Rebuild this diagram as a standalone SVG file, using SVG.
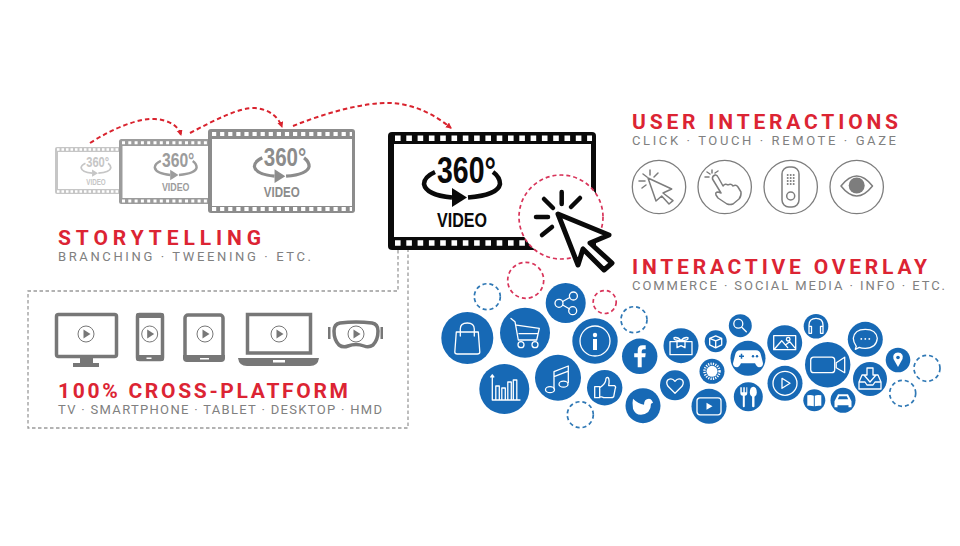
<svg xmlns="http://www.w3.org/2000/svg" xmlns:xlink="http://www.w3.org/1999/xlink" width="960" height="546" viewBox="0 0 960 546">
<style>
.h{font-family:Roboto,"Liberation Sans",sans-serif;font-weight:700;font-size:21px;fill:#dc2433}
.s{font-family:Roboto,"Liberation Sans",sans-serif;font-weight:400;font-size:13px;fill:#808080}
.n{font-family:"Liberation Sans",Arial,sans-serif;font-weight:700;fill:currentColor}
.arc{fill:none;stroke:#d9232e;stroke-width:2;stroke-dasharray:4.500 3}
.box{fill:none;stroke:#9a9a9a;stroke-width:1.300;stroke-dasharray:3.500 2.500}
.dr{fill:#fff;stroke:#d8345a;stroke-width:1.700;stroke-dasharray:4 3}
.db{fill:#fff;stroke:#2f78b5;stroke-width:1.700;stroke-dasharray:4 3}
.b{fill:#1769b5}
.w{fill:none;stroke:#fff;stroke-width:1.300;stroke-linecap:round;stroke-linejoin:round}
.wf{fill:#fff}
.ui{fill:#fff;stroke:#7d7d7d;stroke-width:1.300}
.ic{fill:none;stroke:#7d7d7d;stroke-width:1.500;stroke-linecap:round;stroke-linejoin:round}
.d{fill:#777}
.ds{fill:#fff;stroke:#777;stroke-width:3.500}
.pc{fill:#fff;stroke:#777;stroke-width:1}
.pt{fill:#777}
</style>
<defs>
<marker id="ah" markerWidth="7" markerHeight="7" refX="5" refY="3" orient="auto" markerUnits="userSpaceOnUse"><path d="M0 0L6 3L0 6z" fill="#d9232e"/></marker>
<g id="swoosh"><path d="M435 172Q424 177 424 184Q426 195 452 197.500M493 172Q500 177 500 184Q498 195 468 197.500" fill="none" stroke="currentColor" stroke-width="4.500"/><path d="M467 197.500L452 188V207z" fill="currentColor"/></g>
<g id="play"><circle r="8" class="pc"/><path d="M-2.500 -4.500L4.500 0L-2.500 4.500z" class="pt"/></g>
</defs>
<rect width="960" height="546" fill="#fff"/>

<g id="film-small" color="#c6c6c6">
<rect x="55" y="147" width="70" height="47" rx="2" fill="#c6c6c6"/>
<rect x="58" y="152" width="67" height="37" fill="#fff"/>
<path d="M57 149.500H120M57 191.500H120" stroke="#fff" stroke-width="2.500" stroke-dasharray="2.500 2" fill="none"/>
<g transform="translate(-84.200 96.100) scale(.39)"><text class="n" x="437" y="183" font-size="36" textLength="59" lengthAdjust="spacingAndGlyphs">360°</text><use xlink:href="#swoosh"/><text class="n" x="437" y="227" font-size="21" textLength="50" lengthAdjust="spacingAndGlyphs">VIDEO</text></g>
</g>
<g id="film-medium" color="#9c9c9c">
<rect x="119" y="139" width="95" height="65" rx="2.500" fill="#9c9c9c"/>
<rect x="122.500" y="146" width="90" height="52" fill="#fff"/>
<path d="M122 142.700H208M122 201H208" stroke="#fff" stroke-width="3" stroke-dasharray="3 3.300" fill="none"/>
<g transform="translate(-78.400 66.300) scale(.55)"><text class="n" x="437" y="183" font-size="36" textLength="59" lengthAdjust="spacingAndGlyphs">360°</text><use xlink:href="#swoosh"/><text class="n" x="437" y="227" font-size="21" textLength="50" lengthAdjust="spacingAndGlyphs">VIDEO</text></g>
</g>
<g id="film-large" color="#8c8c8c">
<rect x="208" y="129" width="147" height="84" rx="3" fill="#8c8c8c"/>
<rect x="212" y="139" width="140" height="67" fill="#fff"/>
<path d="M212 134H352M212 209H352" stroke="#fff" stroke-width="4" stroke-dasharray="4.200 3.900" fill="none"/>
<g transform="translate(-50.900 34) scale(.72)"><text class="n" x="437" y="183" font-size="36" textLength="59" lengthAdjust="spacingAndGlyphs">360°</text><use xlink:href="#swoosh"/><text class="n" x="437" y="227" font-size="21" textLength="50" lengthAdjust="spacingAndGlyphs">VIDEO</text></g>
</g>

<g id="connectors">
<path class="arc" marker-end="url(#ah)" d="M90 143C115 127 140 118 155 119C168 120 178 125 181 135"/>
<path class="arc" marker-end="url(#ah)" d="M190 133C215 120 240 107 255 108C268 109 278 116 282 127"/>
<path class="arc" marker-end="url(#ah)" d="M293 126C325 113 365 102 390 103C415 104 435 115 451 128"/>
<path class="box" d="M398 250V291H28V428H408V250"/>
</g>

<g id="film-main" color="#0a0a0a">
<rect x="388" y="132" width="208" height="118" rx="4" fill="#0a0a0a"/>
<rect x="394" y="144" width="197" height="93" fill="#fff"/>
<path d="M395 138.300H592M395 243H592" stroke="#fff" stroke-width="5.500" stroke-dasharray="5.600 5.700" fill="none"/>
<text class="n" x="437" y="183" font-size="36" textLength="59" lengthAdjust="spacingAndGlyphs">360°</text>
<use xlink:href="#swoosh"/>
<text class="n" x="437" y="227" font-size="21" textLength="50" lengthAdjust="spacingAndGlyphs">VIDEO</text>
</g>

<g id="main-cursor">
<circle cx="561" cy="217" r="42" class="dr"/>
<path d="M558 214L609 235L590 243L612 263L604 270L583 249L578 265z" fill="#fff" stroke="#0a0a0a" stroke-width="5" stroke-linejoin="round"/>
<path d="M561.700 192V204M580 198L571 207M544 199L553 208M536 217H548M542 235L552 227" stroke="#0a0a0a" stroke-width="4.500" stroke-linecap="round" fill="none"/>
</g>

<g id="storytelling"><text class="h" x="58" y="245" textLength="203" lengthAdjust="spacing">STORYTELLING</text><text class="s" x="58" y="261" textLength="253" lengthAdjust="spacing">BRANCHING · TWEENING · ETC.</text></g>
<g id="user-interactions"><text class="h" x="632" y="129" textLength="266" lengthAdjust="spacing">USER INTERACTIONS</text><text class="s" x="632" y="145" textLength="264" lengthAdjust="spacing">CLICK · TOUCH · REMOTE · GAZE</text></g>
<g id="interactive-overlay"><text class="h" x="632" y="274" textLength="295" lengthAdjust="spacing">INTERACTIVE OVERLAY</text><text class="s" x="632" y="290" textLength="313" lengthAdjust="spacing">COMMERCE · SOCIAL MEDIA · INFO · ETC.</text></g>
<g id="cross-platform"><text class="h" x="58" y="398" textLength="290" lengthAdjust="spacing">100% CROSS-PLATFORM</text><text class="s" x="58" y="414" textLength="324" lengthAdjust="spacing">TV · SMARTPHONE · TABLET · DESKTOP · HMD</text></g>

<g id="ui-click"><circle cx="659" cy="187" r="26.700" class="ui"/><path class="ic" d="M648 178L671.700 189L663 193L673 200.700L669 204L661.700 196L656 201zM650 170V175M658 173L654 177M643 174L647 177M639 181H645M642 188L646 185"/></g>
<g id="ui-touch"><circle cx="724.700" cy="187" r="26.700" class="ui"/><path class="ic" d="M712.500 179Q712 176 715 175Q717 174.500 718 177L723 186Q725 183 728 185Q731 183 733 186Q736 184 738 187L741 192Q741.500 196 739 199L733 204Q730 205 727 204L718 198L716 195Q715 192 718 192L721 193zM712 170V173M707 172L710 174M705 177H709M718 171L715 173"/></g>
<g id="ui-remote"><circle cx="790.700" cy="187" r="26.700" class="ui"/><rect x="782" y="167" width="17" height="40" rx="7" class="ic"/><circle cx="790.700" cy="196" r="4" class="ic"/><path d="M787.700 175v.1M790.700 175v.1M793.700 175v.1M787.700 178v.1M790.700 178v.1M793.700 178v.1M787.700 181v.1M790.700 181v.1M793.700 181v.1M787.700 184v.1M790.700 184v.1M793.700 184v.1" stroke="#7d7d7d" stroke-width="2" stroke-linecap="round"/></g>
<g id="ui-gaze"><circle cx="856.700" cy="187" r="26.700" class="ui"/><path class="ic" stroke-width="2" d="M841 186Q856.700 166 872.500 186Q856.700 206 841 186z"/><circle cx="856.700" cy="185.500" r="8" fill="#7d7d7d"/></g>

<g id="tv"><rect x="56.500" y="314.500" width="60" height="42" rx="2" class="ds"/><path class="d" d="M80 358H93V363H99V367H73V363H80z"/><use xlink:href="#play" x="86" y="334"/></g>
<g id="smartphone"><rect x="137.500" y="314.500" width="25" height="45" rx="2" class="ds"/><path class="d" d="M136 318V315Q136 313 138 313H162Q164 313 164 315V318zM136 355V359Q136 361 138 361H162Q164 361 164 359V355z"/><rect x="146.500" y="357.500" width="5" height="1.500" fill="#fff"/><use xlink:href="#play" x="149.700" y="334"/></g>
<g id="tablet"><rect x="185" y="315" width="38" height="45" rx="3" class="ds"/><path class="d" d="M183 355H225V358Q225 362 221 362H187Q183 362 183 358z"/><rect x="200" y="358" width="9" height="1.500" fill="#fff"/><use xlink:href="#play" x="205" y="334"/></g>
<g id="laptop"><rect x="247.500" y="314.500" width="63" height="38.500" class="ds"/><path class="d" d="M238 358H319Q318 366 310 366H247Q239 366 238 358z"/><rect x="273" y="360" width="12" height="2.500" fill="#fff"/><use xlink:href="#play" x="279" y="334"/></g>
<g id="hmd"><path class="ds" d="M340 323Q356 321 372 323Q378 324 378 331Q378 340 373 345Q369 348 364 346Q356 343 348 346Q343 348 339 345Q334 340 334 331Q334 324 340 323z"/><path class="d" d="M328 327H330.500V339H328zM380.500 327H383V339H380.500z"/><use xlink:href="#play" x="356" y="334"/></g>

<g id="dashed-circles">
<circle cx="525.700" cy="280.300" r="18" class="dr"/>
<circle cx="604.700" cy="302" r="11.500" class="dr"/>
<circle cx="487.300" cy="296.700" r="13" class="db"/>
<circle cx="634" cy="319.700" r="13" class="db"/>
<circle cx="580.300" cy="414.700" r="13" class="db"/>
<circle cx="927" cy="368.300" r="13" class="db"/>
<circle cx="902.700" cy="393.300" r="13" class="db"/>
</g>

<g id="bag" transform="translate(467.300 338)"><circle r="26" class="b"/><path class="w" stroke-width="1.500" d="M-11 -6H11L12.500 14Q12.500 16 10 16H-10Q-12.500 16 -12.500 14zM-7 -2V-9Q-7 -15 0 -15Q7 -15 7 -9V-2"/></g>
<g id="cart" transform="translate(525 332.700)"><circle r="25" class="b"/><path class="w" stroke-width="1.500" d="M-14 -14.300L-10 -11L-6.700 7.300H11.700L14.300 -4.300L-8.500 -7.500M-6 1H13"/><circle cx="-4" cy="12" r="3" class="w"/><circle cx="10" cy="12" r="3" class="w"/></g>
<g id="share" transform="translate(565.700 303)"><circle r="20" class="b"/><path class="w" stroke-width="1.500" d="M-3 -1.500L4 -5.500M-3 2L4 6"/><circle cx="7.700" cy="-7" r="4" class="w" stroke-width="1.500"/><circle cx="-6.700" cy="0.300" r="4" class="w" stroke-width="1.500"/><circle cx="7" cy="7.700" r="4" class="w" stroke-width="1.500"/></g>
<g id="info" transform="translate(595 341)"><circle r="22.700" class="b"/><circle r="15" class="w" stroke-width="2"/><circle cy="-6" r="2.200" class="wf"/><rect x="-2" y="-2" width="4" height="11" class="wf"/></g>
<g id="facebook" transform="translate(639.700 356.300)"><circle r="17.700" class="b"/><path class="wf" d="M-2 11V1H-5.500V-3H-2V-6Q-2 -11 3 -11H6V-7H4Q2 -7 2 -5V-3H6L5.500 1H2V11z"/></g>
<g id="gift" transform="translate(681 345.700)"><circle r="17.500" class="b"/><path class="w" d="M-11 -4H11V9H-11zM-4 -4V2L0 0L4 2V-4M0 -5Q-3 -9 -7 -8Q-8 -5 0 -5Q3 -9 7 -8Q8 -5 0 -5"/></g>
<g id="chart" transform="translate(504.300 389)"><circle r="25" class="b"/><path class="w" d="M-12 -14V11H15.700M-13.500 -12L-12 -14L-10.500 -12M-8.500 11V-3H-5V11M-2.500 11V-1H1V11M3.500 11V-7H7V11M9 11V-9H12.500V11"/></g>
<g id="music" transform="translate(558 377.700)"><circle r="23" class="b"/><path class="w" stroke-width="1.500" d="M-4 11V-6L10.300 -11.700V5M-4 -1L10.300 -6.500"/><ellipse cx="-8" cy="12" rx="4.500" ry="3" class="w" stroke-width="1.500"/><ellipse cx="5.500" cy="6.500" rx="4.500" ry="3" class="w" stroke-width="1.500"/></g>
<g id="thumb" transform="translate(604.700 387.700)"><circle r="17.700" class="b"/><path class="w" stroke-width="1.500" d="M-10 -1H-5V10H-10zM-5 0Q0 -3 1 -7Q1 -11 3.500 -10Q5 -8 4 -2H10Q11.500 -1 10.500 1L9 9Q8 10 6 10H-1Q-3 9 -5 9"/></g>
<g id="twitter" transform="translate(643 405.700)"><circle r="17.500" class="b"/><path class="wf" d="M-10 -7Q-5 -2 1 -1Q1 -7 6 -7Q8 -7 9 -5L10 -3L8 -2Q8 8 -2 9Q-8 9 -10 3Q-11 -3 -10 -7z"/></g>
<g id="heart" transform="translate(675 385.300)"><circle r="15" class="b"/><path class="w" stroke-width="1.500" d="M0 8L-7 1Q-9.500 -3 -7 -5.500Q-3 -8 0 -4Q3 -8 7 -5.500Q9.500 -3 7 1z"/></g>
<g id="box" transform="translate(715.700 341.300)"><circle r="11" class="b"/><path class="w" d="M-6 -3L0 -5.500L6 -3L0 -.500zM-6 -3V3.500L0 6.500L6 3.500V-3M0 -.500V6.500"/></g>
<g id="search" transform="translate(740.300 325.700)"><circle r="11.500" class="b"/><circle cx="-2" cy="-2" r="4.500" class="w"/><path class="w" stroke-width="1.500" d="M1.500 1.500L6 6"/></g>
<g id="gamepad" transform="translate(748 358.300)"><circle r="17.500" class="b"/><path class="wf" d="M-8 -8H8Q12 -8 13 -3L15 5Q15 9 11 9Q9 9 7 5H-7Q-9 9 -11 9Q-15 9 -15 5L-13 -3Q-12 -8 -8 -8z"/><path d="M-9 -2H-4M-6.500 -4.500V.5" stroke="#1769b5" stroke-width="1.500"/><circle cx="5" cy="-2" r="1.200" fill="#1769b5"/><circle cx="9" cy="-2" r="1.200" fill="#1769b5"/></g>
<g id="sun" transform="translate(712 371.300)"><circle r="12.500" class="b"/><circle r="5.500" class="wf"/><circle r="7.500" fill="none" stroke="#fff" stroke-width="2.500" stroke-dasharray="1.200 1.200"/></g>
<g id="youtube" transform="translate(709 406.300)"><circle r="17.500" class="b"/><rect x="-12" y="-8.500" width="24" height="17" rx="3" class="w" stroke-width="1.500"/><path class="wf" d="M-2.500 -3.500L3.500 0L-2.500 3.500z"/></g>
<g id="cutlery" transform="translate(748.300 396.700)"><circle r="14.500" class="b"/><path class="wf" d="M-8 -9.500V-4Q-8 -1 -5.500 -1V9.500Q-5.500 10.500 -4.500 10.500Q-3.500 10.500 -3.500 9.500V-1Q-1 -1 -1 -4V-9.500H-2V-4.500H-3.500V-9.500H-5V-4.500H-6.500V-9.500zM5 -10Q1.500 -10 1.500 -4Q1.500 -1 3.800 0V9.500Q3.800 10.500 5 10.500Q6.200 10.500 6.200 9.500V0Q8.500 -1 8.500 -4Q8.500 -10 5 -10z"/></g>
<g id="picture" transform="translate(784.700 342.700)"><circle r="17.500" class="b"/><path class="w" d="M-11 -7H11V7H-11zM-10 6L-3 -2L3 5M1 2L5 -1L10 5"/><circle cx="3.500" cy="-3.500" r="1.800" class="w"/></g>
<g id="playbtn" transform="translate(785 383.300)"><circle r="17.500" class="b"/><circle r="12" class="w" stroke-width="1.500"/><path class="w" stroke-width="1.500" d="M-3 -5L5 0L-3 5z"/></g>
<g id="headphones" transform="translate(816 326.300)"><circle r="12.300" class="b"/><path class="w" d="M-7 3V-1Q-7 -8 0 -8Q7 -8 7 -1V3M-7 0H-4.500V7H-7zM4.500 0H7V7H4.500z"/></g>
<g id="camera" transform="translate(827.700 364.700)"><circle r="22.700" class="b"/><rect x="-17" y="-7.500" width="24" height="15.500" rx="3" class="w" stroke-width="1.500"/><path class="w" stroke-width="1.500" d="M8.500 -2L17 -7.500V8L8.500 3z"/></g>
<g id="book" transform="translate(814.300 400.300)"><circle r="11" class="b"/><path class="wf" d="M-7 -5Q-3 -6 -.500 -4.500V6Q-3 5 -7 5.500zM7 -5Q3 -6 .500 -4.500V6Q3 5 7 5.500z"/></g>
<g id="car" transform="translate(843 400.300)"><circle r="12.500" class="b"/><path class="wf" d="M-5 -6H5L7.500 -1L8.500 1V7H5.500V5H-5.500V7H-8.500V1L-7.500 -1zM-3.800 -4L-5.200 -1H5.200L3.800 -4z" fill-rule="evenodd"/></g>
<g id="chat" transform="translate(865.300 339.300)"><circle r="17.500" class="b"/><path class="w" stroke-width="1.500" d="M-9 7Q-12 3 -12 -1Q-11 -10 0 -10Q11 -10 12 -1Q11 9 0 9Q-4 9 -6 8L-10 10z"/><path d="M-4 -.500v.1M0 -.500v.1M4 -.500v.1" stroke="#fff" stroke-width="1.800" stroke-linecap="round"/></g>
<g id="inbox" transform="translate(870 379)"><circle r="17" class="b"/><path class="w" stroke-width="1.500" d="M-5 -4H-8L-11 3V10H11V3L8 -4H5M-11 3H-5L-3 6H3L5 3H11M-3 -11H3V-4H6L0 3L-6 -4H-3z"/></g>
<g id="pin" transform="translate(898 360)"><circle r="12.300" class="b"/><path class="wf" d="M0 7L-4.500 -1Q-6 -7 0 -7.500Q6 -7 4.500 -1z"/><circle cy="-2.500" r="1.800" fill="#1769b5"/></g>
</svg>
